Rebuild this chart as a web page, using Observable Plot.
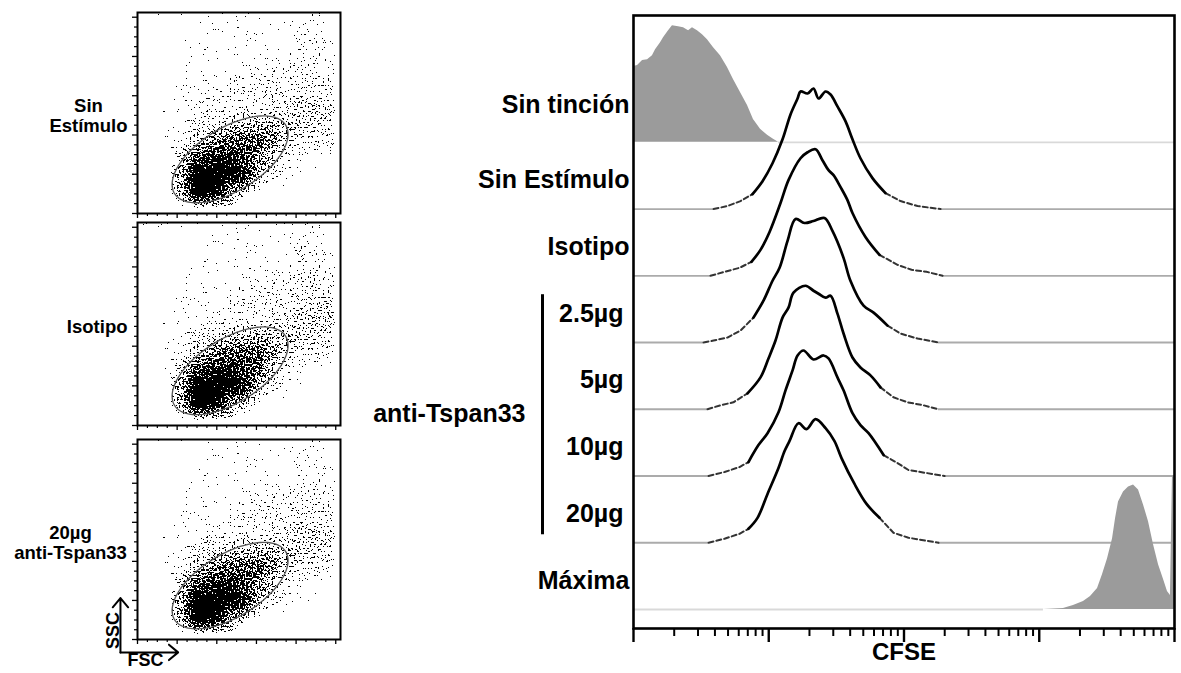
<!DOCTYPE html>
<html><head><meta charset="utf-8">
<script src="https://cdn.jsdelivr.net/npm/d3@7"></script>
<script src="https://cdn.jsdelivr.net/npm/@observablehq/plot@0.6"></script>
<style>
html,body{margin:0;padding:0;background:#fff;}
#root{position:relative;width:1181px;height:673px;overflow:hidden;font-family:"Liberation Sans",Arial,sans-serif;}
.panel{position:absolute;}
.panel svg{overflow:visible;}
</style></head><body><div id="root"></div>
<script>
// ---------------- DATA ----------------
// Left: FSC/SSC dot plots, as density grids (16x16 cells over 0–1024 channels,
// each string is one SSC row from top to bottom, each digit a density level 0–9 along FSC)
const scatterLabels = ["Sin\nEstímulo", "Isotipo", "20µg\nanti-Tspan33"];
const densitySinEstimulo = [
  "0000011111111111",
  "0000111111111111",
  "0001111111111222",
  "0001111111112222",
  "0001111112222222",
  "0001111222222333",
  "0011122222333333",
  "0011222233334443",
  "0011223444444443",
  "0012345666654433",
  "0012467777643322",
  "0004788876532111",
  "0005999986421100",
  "0006999874210000",
  "0005998521000000",
  "0001321000000000"
];
const densityIsotipo = [
  "0000001111111111",
  "0000011111111111",
  "0000011111112222",
  "0001111111112222",
  "0001111112222333",
  "0001111122223333",
  "0011111222233444",
  "0011112223334444",
  "0012223444444443",
  "0012345666554433",
  "0012467777643221",
  "0014788877532111",
  "0015999986421100",
  "0006999874210000",
  "0005998531000000",
  "0001321000000000"
];
const densityTspan20 = [
  "0000011111111111",
  "0000011111111111",
  "0000111111111122",
  "0001111111111222",
  "0001111112222232",
  "0001111122223333",
  "0011111222233333",
  "0011122233334443",
  "0012233444444443",
  "0012345666654433",
  "0012467777643321",
  "0004788876532111",
  "0005999986421100",
  "0006999874210000",
  "0005998521000000",
  "0001321000000000"
];
// fraction of inked pixels for each density level
const densityLevelInk = [0, 0.025, 0.05, 0.09, 0.15, 0.26, 0.44, 0.68, 0.88, 1];
// lymphocyte gate (ellipse) in FSC/SSC channels
const gate = {fsc: 467, ssc: 276, a: 330, b: 160, angleDeg: 32};

// Right: CFSE histograms, points are [log10 CFSE, count]
const histLabels = ["Sin tinción", "Sin Estímulo", "Isotipo", "2.5µg", "5µg", "10µg", "20µg", "Máxima"];
const doseLabels = ["2.5µg", "5µg", "10µg", "20µg"];
const groupLabel = "anti-Tspan33";
const sinTincion = [[0,76],[0.03,77],[0.067,82],[0.104,83],[0.14,87],[0.163,93],[0.2,100],[0.222,105],[0.259,112],[0.288,117],[0.333,116],[0.37,115],[0.407,112],[0.436,115],[0.473,112],[0.51,108],[0.547,103],[0.592,95],[0.643,87],[0.695,75],[0.739,63],[0.791,50],[0.843,37],[0.887,23],[0.939,13],[0.991,7],[1.035,3],[1.072,0]];
const sinEstimulo = [[0.592,0],[0.695,3],[0.791,8],[0.88,15],[0.954,28],[1.028,46],[1.102,70],[1.161,95],[1.213,111],[1.235,118],[1.287,116],[1.331,121],[1.368,111],[1.42,118],[1.457,115],[1.508,103],[1.568,88],[1.619,70],[1.678,51],[1.767,31],[1.863,16],[1.974,8],[2.1,3],[2.27,0]];
const isotipo = [[0.569,0],[0.673,4],[0.784,8],[0.872,14],[0.939,26],[1.006,44],[1.087,73],[1.146,96],[1.235,118],[1.287,124],[1.346,127],[1.397,116],[1.442,106],[1.479,101],[1.531,89],[1.582,76],[1.619,63],[1.715,39],[1.819,21],[1.952,11],[2.056,6],[2.166,4],[2.285,0]];
const dose2_5 = [[0.518,0],[0.592,2],[0.695,5],[0.791,12],[0.887,25],[0.961,42],[1.028,62],[1.08,75],[1.139,102],[1.198,124],[1.264,120],[1.331,122],[1.412,125],[1.471,112],[1.553,85],[1.604,62],[1.701,37],[1.775,30],[1.878,17],[1.974,9],[2.1,4],[2.255,0]];
const dose5 = [[0.547,0],[0.643,4],[0.739,7],[0.843,16],[0.939,32],[0.998,51],[1.05,69],[1.102,92],[1.146,102],[1.183,117],[1.272,124],[1.331,119],[1.368,116],[1.42,112],[1.457,114],[1.508,96],[1.553,76],[1.619,52],[1.678,42],[1.752,34],[1.826,22],[1.922,12],[2.026,7],[2.144,4],[2.255,0]];
const dose10 = [[0.555,0],[0.673,4],[0.784,9],[0.85,14],[0.924,31],[0.991,43],[1.072,64],[1.124,86],[1.176,106],[1.213,121],[1.257,126],[1.331,117],[1.405,121],[1.442,118],[1.508,99],[1.553,86],[1.619,63],[1.678,51],[1.738,43],[1.849,21],[1.952,13],[2.033,6],[2.166,3],[2.3,0]];
const dose20 = [[0.555,0],[0.673,4],[0.784,9],[0.85,14],[0.917,25],[0.991,49],[1.072,75],[1.117,92],[1.153,102],[1.22,120],[1.279,114],[1.346,124],[1.42,115],[1.486,102],[1.538,85],[1.634,59],[1.723,39],[1.819,25],[1.922,10],[2.033,5],[2.166,2],[2.255,0]];
const maxima = [[3.031,0],[3.179,1],[3.253,4],[3.327,8],[3.379,13],[3.431,21],[3.468,35],[3.505,51],[3.542,71],[3.564,91],[3.586,108],[3.623,118],[3.66,123],[3.697,125],[3.734,120],[3.771,105],[3.808,88],[3.845,65],[3.882,45],[3.919,30],[3.948,18],[3.97,14],[3.985,134],[4,134]];
const majorTicks = [1, 10, 100, 1000, 10000];

// ---------------- DRAWING ----------------
const FONT = "Liberation Sans, Arial, Helvetica, sans-serif";
const root = document.getElementById("root");
function place(el, left, top) {
  const d = document.createElement("div");
  d.className = "panel"; d.style.left = left + "px"; d.style.top = top + "px";
  d.appendChild(el); root.appendChild(d);
}

// halftone rendering of the density image so it reads as individual events, like a dot plot
function stipple(svg, id) {
  const ns = "http://www.w3.org/2000/svg";
  const defs = document.createElementNS(ns, "defs");
  defs.innerHTML =
    `<filter id="${id}" x="0" y="0" width="1" height="1" color-interpolation-filters="sRGB">
       <feTurbulence type="fractalNoise" baseFrequency="0.55" numOctaves="2" seed="11" result="noise"/>
       <feComponentTransfer in="noise" result="u">
         <feFuncR type="table" tableValues="0 0.0002 0.0035 0.036 0.184 0.5 0.816 0.964 0.9965 0.9998 1"/>
       </feComponentTransfer>
       <feColorMatrix in="u" type="matrix" values="0 0 0 0 0  0 0 0 0 0  0 0 0 0 0  1 0 0 0 0" result="n"/>
       <feComposite in="SourceAlpha" in2="n" operator="arithmetic" k1="0" k2="4" k3="-4" k4="0.46" result="d"/>
       <feComponentTransfer in="d" result="t"><feFuncA type="discrete" tableValues="0 1"/></feComponentTransfer>
       <feColorMatrix in="t" type="matrix" values="0 0 0 0 0  0 0 0 0 0  0 0 0 0 0  0 0 0 1 0"/>
     </filter>`;
  svg.insertBefore(defs, svg.firstChild);
  svg.querySelectorAll("image").forEach(img => img.setAttribute("filter", `url(#${id})`));
}

function densityCells(rows) {
  const n = rows.length, cell = 1024 / n, cells = [];
  rows.forEach((row, i) => [...row].forEach((ch, j) =>
    cells.push({fsc: (j + 0.5) * cell, ssc: (n - 1 - i + 0.5) * cell, level: +ch})));
  return cells;
}
const th = gate.angleDeg * Math.PI / 180;
const gatePath = d3.range(0, 361, 3).map(deg => {
  const t = deg * Math.PI / 180;
  return {
    fsc: gate.fsc + gate.a * Math.cos(t) * Math.cos(th) - gate.b * Math.sin(t) * Math.sin(th),
    ssc: gate.ssc + gate.a * Math.cos(t) * Math.sin(th) + gate.b * Math.sin(t) * Math.cos(th)
  };
});
const minor50 = d3.range(0, 1001, 50).filter(v => v % 200);
const major200 = d3.range(0, 1001, 200);

function scatter(rows, label, id, {boxH, mt, mb, labelDx, labelAnchor, extra = []}) {
  const svg = Plot.plot({
    width: 350, height: boxH + mt + mb,
    marginLeft: 137, marginRight: 10, marginTop: mt, marginBottom: mb,
    x: {domain: [0, 1024], axis: null},
    y: {domain: [0, 1024], axis: null},
    opacity: {domain: [0, 1], range: [0, 1]},
    style: {fontFamily: FONT, background: "transparent", color: "black"},
    marks: [
      Plot.raster(densityCells(rows), {
        x: "fsc", y: "ssc", fill: "black",
        fillOpacity: d => densityLevelInk[d.level],
        interpolate: "barycentric", x1: 0, y1: 0, x2: 1024, y2: 1024
      }),
      Plot.line(gatePath, {x: "fsc", y: "ssc", stroke: "#555", strokeWidth: 1.3}),
      Plot.frame({stroke: "black", strokeWidth: 2}),
      Plot.axisX(minor50, {anchor: "bottom", tickSize: 3, tickFormat: () => "", label: null, strokeWidth: 1.2}),
      Plot.axisX(major200, {anchor: "bottom", tickSize: 5, tickFormat: () => "", label: null, strokeWidth: 1.3}),
      Plot.axisY(minor50, {anchor: "left", tickSize: 3, tickFormat: () => "", label: null, strokeWidth: 1.2}),
      Plot.axisY(major200, {anchor: "left", tickSize: 5, tickFormat: () => "", label: null, strokeWidth: 1.3}),
      Plot.text([label], {text: d => d, frameAnchor: "left", dx: labelDx, dy: 3, textAnchor: labelAnchor,
        fontSize: 18.5, fontWeight: "bold", lineHeight: 1.08, fontFamily: FONT, fill: "black"}),
      ...extra
    ]
  });
  stipple(svg, id);
  return svg;
}

place(scatter(densitySinEstimulo, scatterLabels[0], "st1", {boxH: 201, mt: 4, mb: 8, labelDx: -49, labelAnchor: "middle"}), 0, 8);
place(scatter(densityIsotipo, scatterLabels[1], "st2", {boxH: 203, mt: 4, mb: 8, labelDx: -10, labelAnchor: "end"}), 0, 218);
place(scatter(densityTspan20, scatterLabels[2], "st3", {boxH: 200, mt: 4, mb: 34, labelDx: -67, labelAnchor: "middle",
  extra: [
    Plot.arrow([0], {x1: -86, y1: -66, x2: -86, y2: 212, stroke: "black", strokeWidth: 2, headLength: 9, headAngle: 80}),
    Plot.arrow([0], {x1: -86, y1: -66, x2: 205, y2: -66, stroke: "black", strokeWidth: 2, headLength: 9, headAngle: 80}),
    Plot.text(["SSC"], {text: d => d, x: -124, y: 46, rotate: -90, fontSize: 18, fontWeight: "bold", fontFamily: FONT, fill: "black"}),
    Plot.text(["FSC"], {text: d => d, x: 40, y: -108, fontSize: 18, fontWeight: "bold", fontFamily: FONT, fill: "black"})
  ]}), 0, 435);

// ---- CFSE histogram overlay ----
const ROW = 67;
const curves = [sinTincion, sinEstimulo, isotipo, dose2_5, dose5, dose10, dose20, maxima];
const series = histLabels.map((label, i) => {
  const base = (histLabels.length - 1 - i) * ROW;
  const filled = i === 0 || i === histLabels.length - 1;
  const pts = curves[i].map(([l, c]) => ({x: 10 ** l, y: base + c, c, base}));
  return {label, base, filled, pts, dose: doseLabels.includes(label)};
});
const TAIL = 14;
const bodies = [], tails = [], areas = [], baselines = [];
series.forEach((s, k) => {
  const p = s.pts;
  if (s.filled) {
    p.forEach(d => areas.push({...d, k}));
    if (k === 0) baselines.push({base: s.base, x1: p[p.length - 1].x, x2: 1e4, light: true});
    else baselines.push({base: s.base, x1: 1, x2: p[0].x, light: true});
  } else {
    const i0 = p.findIndex(d => d.c >= TAIL);
    let i1 = p.length - 1; while (p[i1].c < TAIL) i1--;
    p.slice(i0, i1 + 1).forEach(d => bodies.push({...d, k}));
    p.slice(0, i0 + 1).forEach(d => tails.push({...d, k: k + "L"}));
    p.slice(i1).forEach(d => tails.push({...d, k: k + "R"}));
    baselines.push({base: s.base, x1: 1, x2: p[0].x, light: false});
    baselines.push({base: s.base, x1: p[p.length - 1].x, x2: 1e4, light: false});
  }
});
const minorTicks = [];
for (let d = 0; d < 4; d++) for (let m = 2; m <= 9; m++) minorTicks.push(m * 10 ** d);
const LABEL_UP = 29;
const doseRows = series.filter(s => s.dose);
const doseMid = d3.mean(doseRows, s => s.base + LABEL_UP);

const hist = Plot.plot({
  width: 826, height: 673,
  marginLeft: 278, marginRight: 7, marginTop: 15, marginBottom: 45,
  x: {type: "log", domain: [1, 1e4], axis: null},
  y: {domain: [-0.285 * ROW, 8.9 * ROW], axis: null},
  style: {fontFamily: FONT, background: "transparent", color: "black"},
  marks: [
    Plot.ruleY(baselines, {y: "base", x1: "x1", x2: "x2", stroke: d => d.light ? "#d9d9d9" : "#ababab", strokeWidth: 1.8}),
    Plot.areaY(areas, {x: "x", y1: "base", y2: "y", z: "k", fill: "#9b9b9b", curve: "linear"}),
    Plot.line(tails, {x: "x", y: "y", z: "k", stroke: "#333", strokeWidth: 2, strokeDasharray: "5,3"}),
    Plot.line(bodies, {x: "x", y: "y", z: "k", stroke: "black", strokeWidth: 2.7, strokeLinejoin: "round", curve: "catmull-rom"}),
    Plot.frame({stroke: "black", strokeWidth: 2.6}),
    Plot.axisX(majorTicks, {anchor: "bottom", tickSize: 14, tickFormat: () => "", label: null, strokeWidth: 2.4}),
    Plot.axisX(minorTicks, {anchor: "bottom", tickSize: 8, tickFormat: () => "", label: null, strokeWidth: 2}),
    Plot.text(["CFSE"], {text: d => d, frameAnchor: "bottom", dy: 31, fontSize: 24, fontWeight: "bold", fontFamily: FONT, fill: "black"}),
    Plot.text(series.filter(s => !s.dose), {text: "label", frameAnchor: "left", y: s => s.base + (s.label === "Sin tinción" ? LABEL_UP + 8 : LABEL_UP),
      textAnchor: "end", dx: -4, fontSize: 25, fontWeight: "bold", fontFamily: FONT, fill: "black"}),
    Plot.text(doseRows, {text: "label", frameAnchor: "left", y: s => s.base + LABEL_UP,
      textAnchor: "end", dx: -10, fontSize: 25, fontWeight: "bold", fontFamily: FONT, fill: "black"}),
    Plot.ruleX([1], {y1: doseRows[0].base + LABEL_UP + 19, y2: doseRows[doseRows.length - 1].base + LABEL_UP - 21, dx: -91, stroke: "black", strokeWidth: 3}),
    Plot.text([groupLabel], {text: d => d, frameAnchor: "left", y: () => doseMid, textAnchor: "end", dx: -108, fontSize: 25, fontWeight: "bold", fontFamily: FONT, fill: "black"})
  ]
});
place(hist, 355, 0);
</script>
</body></html>
